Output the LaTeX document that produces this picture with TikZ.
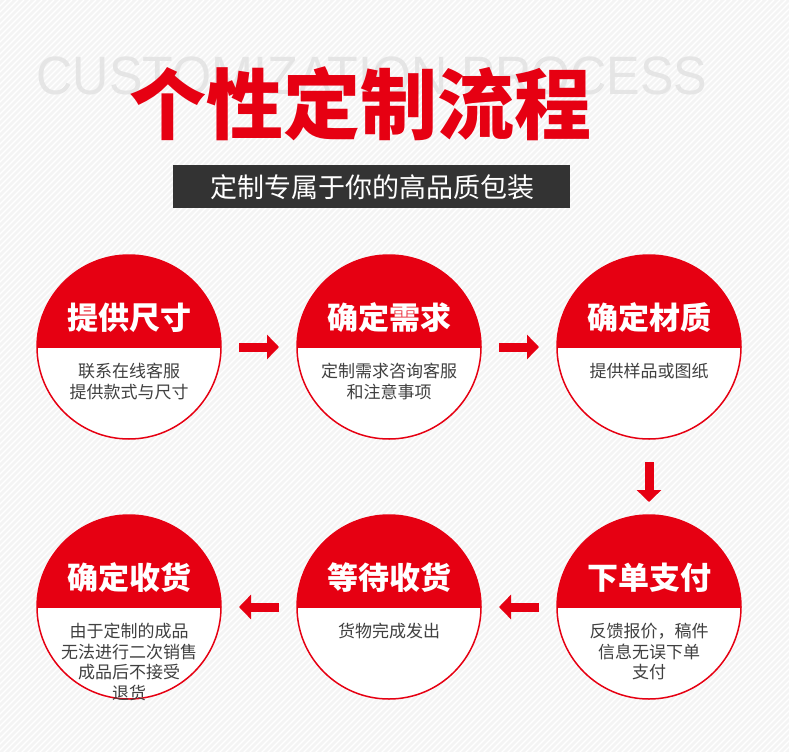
\documentclass[tikz,border=0pt]{standalone}
\usepackage{fontspec}
\newfontfamily\cjk{Noto Sans CJK SC}
\newfontfamily\lat{Liberation Sans}
\usetikzlibrary{arrows.meta}
\definecolor{rd}{HTML}{E60012}
\definecolor{bg}{HTML}{F4F4F4}
\tikzset{
 x=1pt,y=-1pt,
 ttl/.style={font=\cjk\bfseries\fontsize{31}{33}\selectfont,text=white},
 body/.style={font=\cjk\fontsize{17}{20.5}\selectfont,text=black!75,align=center,anchor=north,inner sep=0pt},
 arr/.style={rd,line width=9pt,-{Triangle[length=12pt,width=24pt]}},
}
\newcommand{\stepcirc}[5]{%
 \coordinate (#1) at (#2,#3);
 \begin{scope}
 \clip (#2,#3) circle[radius=92];
 \fill[rd] (#2-95,#3-95) rectangle (#2+95,#3+1);
 \fill[white] (#2-95,#3+1) rectangle (#2+95,#3+95);
 \end{scope}
 \draw[rd,line width=1.5pt] (#2,#3) circle[radius=92];
 \node[ttl] (#1t) at (#2,#3-29) {#4};
 \node[body] (#1b) at (#2,#3+16) {#5};
}
\begin{document}
\begin{tikzpicture}
\fill[bg] (0,0) rectangle (789,752);
\begin{scope}
\clip (0,0) rectangle (789,752);
\foreach \i in {0,6,...,1560} \draw[white,line width=1.2pt] (\i,0) -- (\i-760,760);
\end{scope}
\node[font=\lat\fontsize{54}{58}\selectfont,text=black!10,xscale=0.93] (bgt) at (372,76) {CUSTOMIZATION PROCESS};
\node[font=\cjk\bfseries\fontsize{77}{80}\selectfont,text=rd] (title) at (360,104) {个性定制流程};
\fill[black!80] (173,165) rectangle (570,208);
\node[font=\cjk\fontsize{27}{30}\selectfont,text=white] (sub) at (372,187) {定制专属于你的高品质包装};
\stepcirc{a}{129}{347}{提供尺寸}{联系在线客服\\提供款式与尺寸}
\stepcirc{b}{389}{347}{确定需求}{定制需求咨询客服\\和注意事项}
\stepcirc{c}{649}{347}{确定材质}{提供样品或图纸}
\stepcirc{f}{129}{607}{确定收货}{由于定制的成品\\无法进行二次销售\\成品后不接受\\退货}
\stepcirc{e}{389}{607}{等待收货}{货物完成发出}
\stepcirc{d}{649}{607}{下单支付}{反馈报价，稿件\\信息无误下单\\支付}
\draw[arr] ([xshift=110]a) -- ([xshift=150]a);
\draw[arr] ([xshift=110]b) -- ([xshift=150]b);
\draw[arr] ([yshift=-115]c) -- ([yshift=-155]c);
\draw[arr] ([xshift=-110]d) -- ([xshift=-150]d);
\draw[arr] ([xshift=-110]e) -- ([xshift=-150]e);
\end{tikzpicture}
\end{document}
